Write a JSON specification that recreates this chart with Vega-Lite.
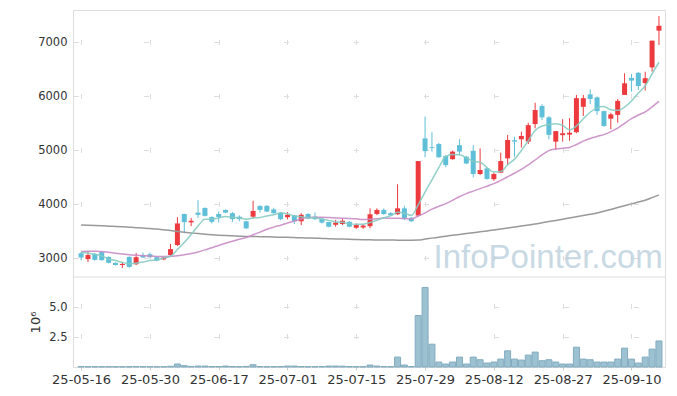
{
  "$schema": "https://vega.github.io/schema/vega-lite/v6.json",
  "width": 592,
  "height": 357,
  "autosize": "none",
  "padding": {"left": 73, "top": 10, "right": 12, "bottom": 29},
  "background": "white",
  "config": {
    "view": {"stroke": "#dddddd", "strokeWidth": 1},
    "axis": {"labelFont": "DejaVu Sans", "titleFont": "DejaVu Sans", "labelColor": "#333333", "titleColor": "#333333", "grid": false}
  },
  "datasets": {
    "prices": [
      {"i":0,"date":"2025-05-16","open":3090,"high":3110,"low":2960,"close":3010,"volume":40000,"ma5":3100,"ma20":3120,"ma120":3610},
      {"i":1,"date":"2025-05-19","open":2980,"high":3130,"low":2925,"close":3055,"volume":30000,"ma5":3090,"ma20":3125,"ma120":3605},
      {"i":2,"date":"2025-05-20","open":3075,"high":3090,"low":2950,"close":2965,"volume":30000,"ma5":3070,"ma20":3125,"ma120":3600},
      {"i":3,"date":"2025-05-21","open":3110,"high":3120,"low":2950,"close":2960,"volume":25000,"ma5":3040,"ma20":3120,"ma120":3595},
      {"i":4,"date":"2025-05-22","open":3020,"high":3030,"low":2900,"close":2910,"volume":30000,"ma5":2980,"ma20":3105,"ma120":3590},
      {"i":5,"date":"2025-05-23","open":2910,"high":2920,"low":2860,"close":2870,"volume":25000,"ma5":2952,"ma20":3090,"ma120":3585},
      {"i":6,"date":"2025-05-26","open":2870,"high":2925,"low":2815,"close":2890,"volume":20000,"ma5":2919,"ma20":3075,"ma120":3578},
      {"i":7,"date":"2025-05-27","open":3020,"high":3030,"low":2820,"close":2835,"volume":25000,"ma5":2893,"ma20":3060,"ma120":3570},
      {"i":8,"date":"2025-05-28","open":2885,"high":3090,"low":2870,"close":3015,"volume":40000,"ma5":2904,"ma20":3050,"ma120":3562},
      {"i":9,"date":"2025-05-29","open":3055,"high":3100,"low":3000,"close":3010,"volume":30000,"ma5":2924,"ma20":3042,"ma120":3555},
      {"i":10,"date":"2025-05-30","open":3070,"high":3100,"low":3005,"close":3015,"volume":25000,"ma5":2953,"ma20":3035,"ma120":3545},
      {"i":11,"date":"2025-06-02","open":3015,"high":3030,"low":2940,"close":2950,"volume":20000,"ma5":2965,"ma20":3030,"ma120":3535},
      {"i":12,"date":"2025-06-04","open":2975,"high":3020,"low":2960,"close":3010,"volume":25000,"ma5":3000,"ma20":3027,"ma120":3522},
      {"i":13,"date":"2025-06-05","open":3055,"high":3260,"low":3040,"close":3165,"volume":60000,"ma5":3030,"ma20":3032,"ma120":3508},
      {"i":14,"date":"2025-06-09","open":3240,"high":3755,"low":3220,"close":3640,"volume":250000,"ma5":3158,"ma20":3040,"ma120":3492},
      {"i":15,"date":"2025-06-10","open":3815,"high":3820,"low":3460,"close":3665,"volume":110000,"ma5":3288,"ma20":3060,"ma120":3478},
      {"i":16,"date":"2025-06-11","open":3660,"high":3740,"low":3590,"close":3690,"volume":50000,"ma5":3436,"ma20":3082,"ma120":3465},
      {"i":17,"date":"2025-06-12","open":3840,"high":4070,"low":3740,"close":3800,"volume":80000,"ma5":3594,"ma20":3110,"ma120":3452},
      {"i":18,"date":"2025-06-13","open":3925,"high":3940,"low":3770,"close":3780,"volume":80000,"ma5":3717,"ma20":3150,"ma120":3440},
      {"i":19,"date":"2025-06-16","open":3760,"high":3770,"low":3640,"close":3670,"volume":40000,"ma5":3721,"ma20":3190,"ma120":3430},
      {"i":20,"date":"2025-06-17","open":3815,"high":3860,"low":3655,"close":3760,"volume":40000,"ma5":3740,"ma20":3233,"ma120":3422},
      {"i":21,"date":"2025-06-18","open":3890,"high":3900,"low":3830,"close":3840,"volume":80000,"ma5":3770,"ma20":3273,"ma120":3415},
      {"i":22,"date":"2025-06-19","open":3830,"high":3850,"low":3670,"close":3720,"volume":40000,"ma5":3754,"ma20":3310,"ma120":3410},
      {"i":23,"date":"2025-06-20","open":3765,"high":3790,"low":3680,"close":3720,"volume":30000,"ma5":3742,"ma20":3348,"ma120":3405},
      {"i":24,"date":"2025-06-23","open":3680,"high":3690,"low":3535,"close":3550,"volume":50000,"ma5":3718,"ma20":3380,"ma120":3400},
      {"i":25,"date":"2025-06-24","open":3765,"high":4060,"low":3730,"close":3870,"volume":190000,"ma5":3740,"ma20":3430,"ma120":3397},
      {"i":26,"date":"2025-06-25","open":3965,"high":3975,"low":3840,"close":3890,"volume":40000,"ma5":3750,"ma20":3480,"ma120":3395},
      {"i":27,"date":"2025-06-26","open":3965,"high":3980,"low":3850,"close":3860,"volume":30000,"ma5":3778,"ma20":3532,"ma120":3392},
      {"i":28,"date":"2025-06-27","open":3900,"high":3930,"low":3820,"close":3830,"volume":30000,"ma5":3800,"ma20":3572,"ma120":3388},
      {"i":29,"date":"2025-06-30","open":3840,"high":3850,"low":3700,"close":3720,"volume":40000,"ma5":3834,"ma20":3608,"ma120":3385},
      {"i":30,"date":"2025-07-01","open":3755,"high":3850,"low":3715,"close":3800,"volume":80000,"ma5":3820,"ma20":3647,"ma120":3382},
      {"i":31,"date":"2025-07-02","open":3790,"high":3800,"low":3630,"close":3680,"volume":80000,"ma5":3778,"ma20":3684,"ma120":3378},
      {"i":32,"date":"2025-07-03","open":3680,"high":3830,"low":3610,"close":3800,"volume":40000,"ma5":3766,"ma20":3723,"ma120":3375},
      {"i":33,"date":"2025-07-04","open":3815,"high":3830,"low":3720,"close":3730,"volume":30000,"ma5":3746,"ma20":3751,"ma120":3371},
      {"i":34,"date":"2025-07-07","open":3765,"high":3845,"low":3705,"close":3720,"volume":30000,"ma5":3746,"ma20":3755,"ma120":3367},
      {"i":35,"date":"2025-07-08","open":3730,"high":3740,"low":3640,"close":3655,"volume":40000,"ma5":3717,"ma20":3754,"ma120":3363},
      {"i":36,"date":"2025-07-09","open":3665,"high":3670,"low":3570,"close":3580,"volume":80000,"ma5":3697,"ma20":3749,"ma120":3358},
      {"i":37,"date":"2025-07-10","open":3615,"high":3705,"low":3580,"close":3655,"volume":80000,"ma5":3668,"ma20":3742,"ma120":3354},
      {"i":38,"date":"2025-07-11","open":3630,"high":3720,"low":3610,"close":3690,"volume":70000,"ma5":3660,"ma20":3737,"ma120":3350},
      {"i":39,"date":"2025-07-14","open":3670,"high":3680,"low":3570,"close":3580,"volume":40000,"ma5":3632,"ma20":3733,"ma120":3346},
      {"i":40,"date":"2025-07-15","open":3560,"high":3640,"low":3540,"close":3610,"volume":30000,"ma5":3623,"ma20":3725,"ma120":3343},
      {"i":41,"date":"2025-07-16","open":3565,"high":3630,"low":3540,"close":3600,"volume":30000,"ma5":3627,"ma20":3713,"ma120":3340},
      {"i":42,"date":"2025-07-17","open":3590,"high":3920,"low":3550,"close":3810,"volume":165000,"ma5":3658,"ma20":3718,"ma120":3337},
      {"i":43,"date":"2025-07-18","open":3815,"high":3920,"low":3795,"close":3890,"volume":80000,"ma5":3698,"ma20":3726,"ma120":3335},
      {"i":44,"date":"2025-07-21","open":3890,"high":3920,"low":3800,"close":3815,"volume":40000,"ma5":3745,"ma20":3739,"ma120":3333},
      {"i":45,"date":"2025-07-22","open":3830,"high":3850,"low":3780,"close":3790,"volume":30000,"ma5":3781,"ma20":3735,"ma120":3332},
      {"i":46,"date":"2025-07-23","open":3810,"high":4365,"low":3795,"close":3920,"volume":825000,"ma5":3845,"ma20":3737,"ma120":3331},
      {"i":47,"date":"2025-07-24","open":3920,"high":3965,"low":3700,"close":3735,"volume":165000,"ma5":3830,"ma20":3731,"ma120":3330},
      {"i":48,"date":"2025-07-25","open":3745,"high":3760,"low":3670,"close":3680,"volume":40000,"ma5":3788,"ma20":3723,"ma120":3330},
      {"i":49,"date":"2025-07-28","open":3785,"high":4795,"low":3770,"close":4795,"volume":4290000,"ma5":3984,"ma20":3777,"ma120":3333},
      {"i":50,"date":"2025-07-29","open":5215,"high":5620,"low":4865,"close":4980,"volume":6630000,"ma5":4222,"ma20":3836,"ma120":3350},
      {"i":51,"date":"2025-07-30","open":5055,"high":5330,"low":4970,"close":5040,"volume":1900000,"ma5":4446,"ma20":3904,"ma120":3368},
      {"i":52,"date":"2025-07-31","open":5110,"high":5130,"low":4860,"close":4865,"volume":412000,"ma5":4672,"ma20":3957,"ma120":3386},
      {"i":53,"date":"2025-08-01","open":4890,"high":4900,"low":4680,"close":4720,"volume":247000,"ma5":4880,"ma20":4007,"ma120":3404},
      {"i":54,"date":"2025-08-04","open":4830,"high":4990,"low":4820,"close":4970,"volume":412000,"ma5":4915,"ma20":4069,"ma120":3420},
      {"i":55,"date":"2025-08-05","open":5090,"high":5200,"low":4910,"close":4970,"volume":825000,"ma5":4913,"ma20":4135,"ma120":3436},
      {"i":56,"date":"2025-08-06","open":4875,"high":4890,"low":4740,"close":4750,"volume":247000,"ma5":4855,"ma20":4193,"ma120":3452},
      {"i":57,"date":"2025-08-07","open":4985,"high":5090,"low":4495,"close":4555,"volume":825000,"ma5":4793,"ma20":4238,"ma120":3468},
      {"i":58,"date":"2025-08-08","open":4555,"high":5030,"low":4535,"close":4630,"volume":605000,"ma5":4775,"ma20":4285,"ma120":3485},
      {"i":59,"date":"2025-08-11","open":4660,"high":4670,"low":4450,"close":4465,"volume":330000,"ma5":4674,"ma20":4330,"ma120":3502},
      {"i":60,"date":"2025-08-12","open":4460,"high":4580,"low":4430,"close":4555,"volume":412000,"ma5":4591,"ma20":4377,"ma120":3520},
      {"i":61,"date":"2025-08-13","open":4580,"high":4950,"low":4570,"close":4795,"volume":660000,"ma5":4600,"ma20":4437,"ma120":3538},
      {"i":62,"date":"2025-08-14","open":4845,"high":5280,"low":4720,"close":5185,"volume":1350000,"ma5":4726,"ma20":4505,"ma120":3556},
      {"i":63,"date":"2025-08-18","open":5180,"high":5245,"low":4875,"close":5155,"volume":660000,"ma5":4831,"ma20":4569,"ma120":3574},
      {"i":64,"date":"2025-08-19","open":5200,"high":5340,"low":5045,"close":5260,"volume":578000,"ma5":4990,"ma20":4641,"ma120":3592},
      {"i":65,"date":"2025-08-20","open":5155,"high":5505,"low":5110,"close":5460,"volume":990000,"ma5":5171,"ma20":4724,"ma120":3611},
      {"i":66,"date":"2025-08-21","open":5480,"high":5875,"low":5400,"close":5740,"volume":1240000,"ma5":5360,"ma20":4815,"ma120":3630},
      {"i":67,"date":"2025-08-22","open":5815,"high":5850,"low":5555,"close":5605,"volume":522000,"ma5":5444,"ma20":4909,"ma120":3652},
      {"i":68,"date":"2025-08-25","open":5605,"high":5630,"low":5200,"close":5280,"volume":605000,"ma5":5469,"ma20":4989,"ma120":3674},
      {"i":69,"date":"2025-08-26","open":5155,"high":5350,"low":5000,"close":5350,"volume":412000,"ma5":5487,"ma20":5017,"ma120":3696},
      {"i":70,"date":"2025-08-27","open":5275,"high":5570,"low":5155,"close":5310,"volume":247000,"ma5":5457,"ma20":5033,"ma120":3718},
      {"i":71,"date":"2025-08-28","open":5285,"high":5590,"low":5170,"close":5320,"volume":247000,"ma5":5373,"ma20":5047,"ma120":3740},
      {"i":72,"date":"2025-08-29","open":5330,"high":6020,"low":5310,"close":5960,"volume":1650000,"ma5":5444,"ma20":5102,"ma120":3763},
      {"i":73,"date":"2025-09-01","open":5800,"high":6020,"low":5630,"close":5960,"volume":660000,"ma5":5580,"ma20":5164,"ma120":3786},
      {"i":74,"date":"2025-09-02","open":6030,"high":6125,"low":5850,"close":5945,"volume":605000,"ma5":5699,"ma20":5213,"ma120":3809},
      {"i":75,"date":"2025-09-03","open":5975,"high":5990,"low":5650,"close":5720,"volume":412000,"ma5":5781,"ma20":5250,"ma120":3833},
      {"i":76,"date":"2025-09-04","open":5720,"high":5730,"low":5430,"close":5445,"volume":412000,"ma5":5806,"ma20":5285,"ma120":3866},
      {"i":77,"date":"2025-09-05","open":5580,"high":5690,"low":5385,"close":5660,"volume":412000,"ma5":5746,"ma20":5340,"ma120":3900},
      {"i":78,"date":"2025-09-08","open":5650,"high":5945,"low":5505,"close":5910,"volume":660000,"ma5":5736,"ma20":5404,"ma120":3934},
      {"i":79,"date":"2025-09-09","open":6020,"high":6420,"low":6020,"close":6235,"volume":1570000,"ma5":5794,"ma20":5493,"ma120":3968},
      {"i":80,"date":"2025-09-10","open":6335,"high":6410,"low":6080,"close":6285,"volume":660000,"ma5":5907,"ma20":5579,"ma120":4002},
      {"i":81,"date":"2025-09-11","open":6430,"high":6440,"low":6110,"close":6185,"volume":330000,"ma5":6055,"ma20":5649,"ma120":4036},
      {"i":82,"date":"2025-09-12","open":6240,"high":6450,"low":6100,"close":6330,"volume":825000,"ma5":6189,"ma20":5706,"ma120":4070},
      {"i":83,"date":"2025-09-15","open":6530,"high":7025,"low":6450,"close":7025,"volume":1490000,"ma5":6412,"ma20":5799,"ma120":4118},
      {"i":84,"date":"2025-09-16","open":7210,"high":7480,"low":6945,"close":7300,"volume":2170000,"ma5":6625,"ma20":5901,"ma120":4167}
    ],
    "panel": [{"sep": "panel"}],
    "mark": [{"label": "InfoPointer.com"}]
  },
  "layer": [
    {
      "layer": [
        {
          "data": {"name": "prices"},
          "mark": {"type": "rule", "strokeWidth": 1},
          "encoding": {
            "x": {
              "field": "i", "type": "quantitative",
              "scale": {"domain": [-0.45, 84.15], "nice": false, "zero": false},
              "axis": {
                "values": [0, 10, 20, 30, 40, 50, 60, 70, 80],
                "labelExpr": "['25-05-16','25-05-30','25-06-17','25-07-01','25-07-15','25-07-29','25-08-12','25-08-27','25-09-10'][datum.value/10]",
                "title": null, "tickSize": 3, "tickColor": "#cccccc", "domainColor": "#dddddd",
                "labelFontSize": 13, "labelPadding": 3, "labelFlush": false, "labelOverlap": false,
                "grid": true, "gridColor": "#dddddd", "gridWidth": 1,
                "gridDash": [0, 29.5, 5, 49, 5, 49, 5, 49, 5, 49, 5, 43, 5, 25, 5, 100]
              }
            },
            "y": {"field": "low", "type": "quantitative", "scale": {"domain": [981.5, 7592.6], "nice": false, "zero": false},
              "axis": {"orient": "left", "values": [3000, 4000, 5000, 6000, 7000], "format": "d", "title": null, "ticks": false, "domain": false, "labelPadding": 6, "labelFontSize": 11.5,
                "grid": true, "gridColor": "#dddddd", "gridWidth": 1, "gridDash": [5, 65], "gridDashOffset": 69.5}},
            "y2": {"field": "high"},
            "color": {"condition": {"test": "datum.close >= datum.open", "value": "#ec3a3f"}, "value": "#5fbfd8"}
          }
        },
        {
          "data": {"name": "prices"},
          "mark": {"type": "bar", "size": 5},
          "encoding": {
            "x": {"field": "i", "type": "quantitative"},
            "y": {"field": "open", "type": "quantitative"},
            "y2": {"field": "close"},
            "color": {"condition": {"test": "datum.close >= datum.open", "value": "#ec3a3f"}, "value": "#5fbfd8"}
          }
        },
        {
          "data": {"name": "prices"},
          "mark": {"type": "line", "interpolate": "monotone", "stroke": "#999999", "strokeWidth": 1.5},
          "encoding": {"x": {"field": "i", "type": "quantitative"}, "y": {"field": "ma120", "type": "quantitative"}}
        },
        {
          "data": {"name": "prices"},
          "mark": {"type": "line", "interpolate": "monotone", "stroke": "#c98bc4", "strokeWidth": 1.5, "opacity": 0.9},
          "encoding": {"x": {"field": "i", "type": "quantitative"}, "y": {"field": "ma20", "type": "quantitative"}}
        },
        {
          "data": {"name": "prices"},
          "mark": {"type": "line", "interpolate": "monotone", "stroke": "#86cbc2", "strokeWidth": 1.5, "opacity": 0.9},
          "encoding": {"x": {"field": "i", "type": "quantitative"}, "y": {"field": "ma5", "type": "quantitative"}}
        },
        {
          "data": {"name": "panel"},
          "mark": {"type": "rule", "stroke": "#dddddd", "strokeWidth": 1},
          "encoding": {"y": {"datum": 2648, "type": "quantitative"}}
        },
        {
          "data": {"name": "mark"},
          "mark": {"type": "text", "font": "Liberation Sans", "fontSize": 33, "fill": "#b7cddb", "opacity": 0.75, "align": "center", "baseline": "alphabetic"},
          "encoding": {
            "x": {"datum": 67.9, "type": "quantitative"},
            "y": {"datum": 2815, "type": "quantitative"},
            "text": {"field": "label"}
          }
        }
      ]
    },
    {
      "data": {"name": "prices"},
      "mark": {"type": "bar", "size": 6, "fill": "#9cc2d2", "stroke": "#82abbf", "strokeWidth": 1},
      "encoding": {
        "x": {"field": "i", "type": "quantitative"},
        "y": {
          "field": "volume", "type": "quantitative",
          "scale": {"domain": [0, 29750000], "nice": false},
          "axis": {"orient": "left", "values": [2500000, 5000000], "labelExpr": "format(datum.value/1000000, '.1f')", "title": "10⁶",
            "titleX": -38, "titleY": 312, "titleAngle": 270, "titleAlign": "center", "titleBaseline": "middle",
            "titleFontSize": 13, "titleFontWeight": "normal", "ticks": false, "domain": false, "labelPadding": 6, "labelFontSize": 11.5,
            "grid": true, "gridColor": "#dddddd", "gridWidth": 1, "gridDash": [5, 65], "gridDashOffset": 69.5}
        }
      }
    }
  ],
  "resolve": {"scale": {"y": "independent"}}
}
